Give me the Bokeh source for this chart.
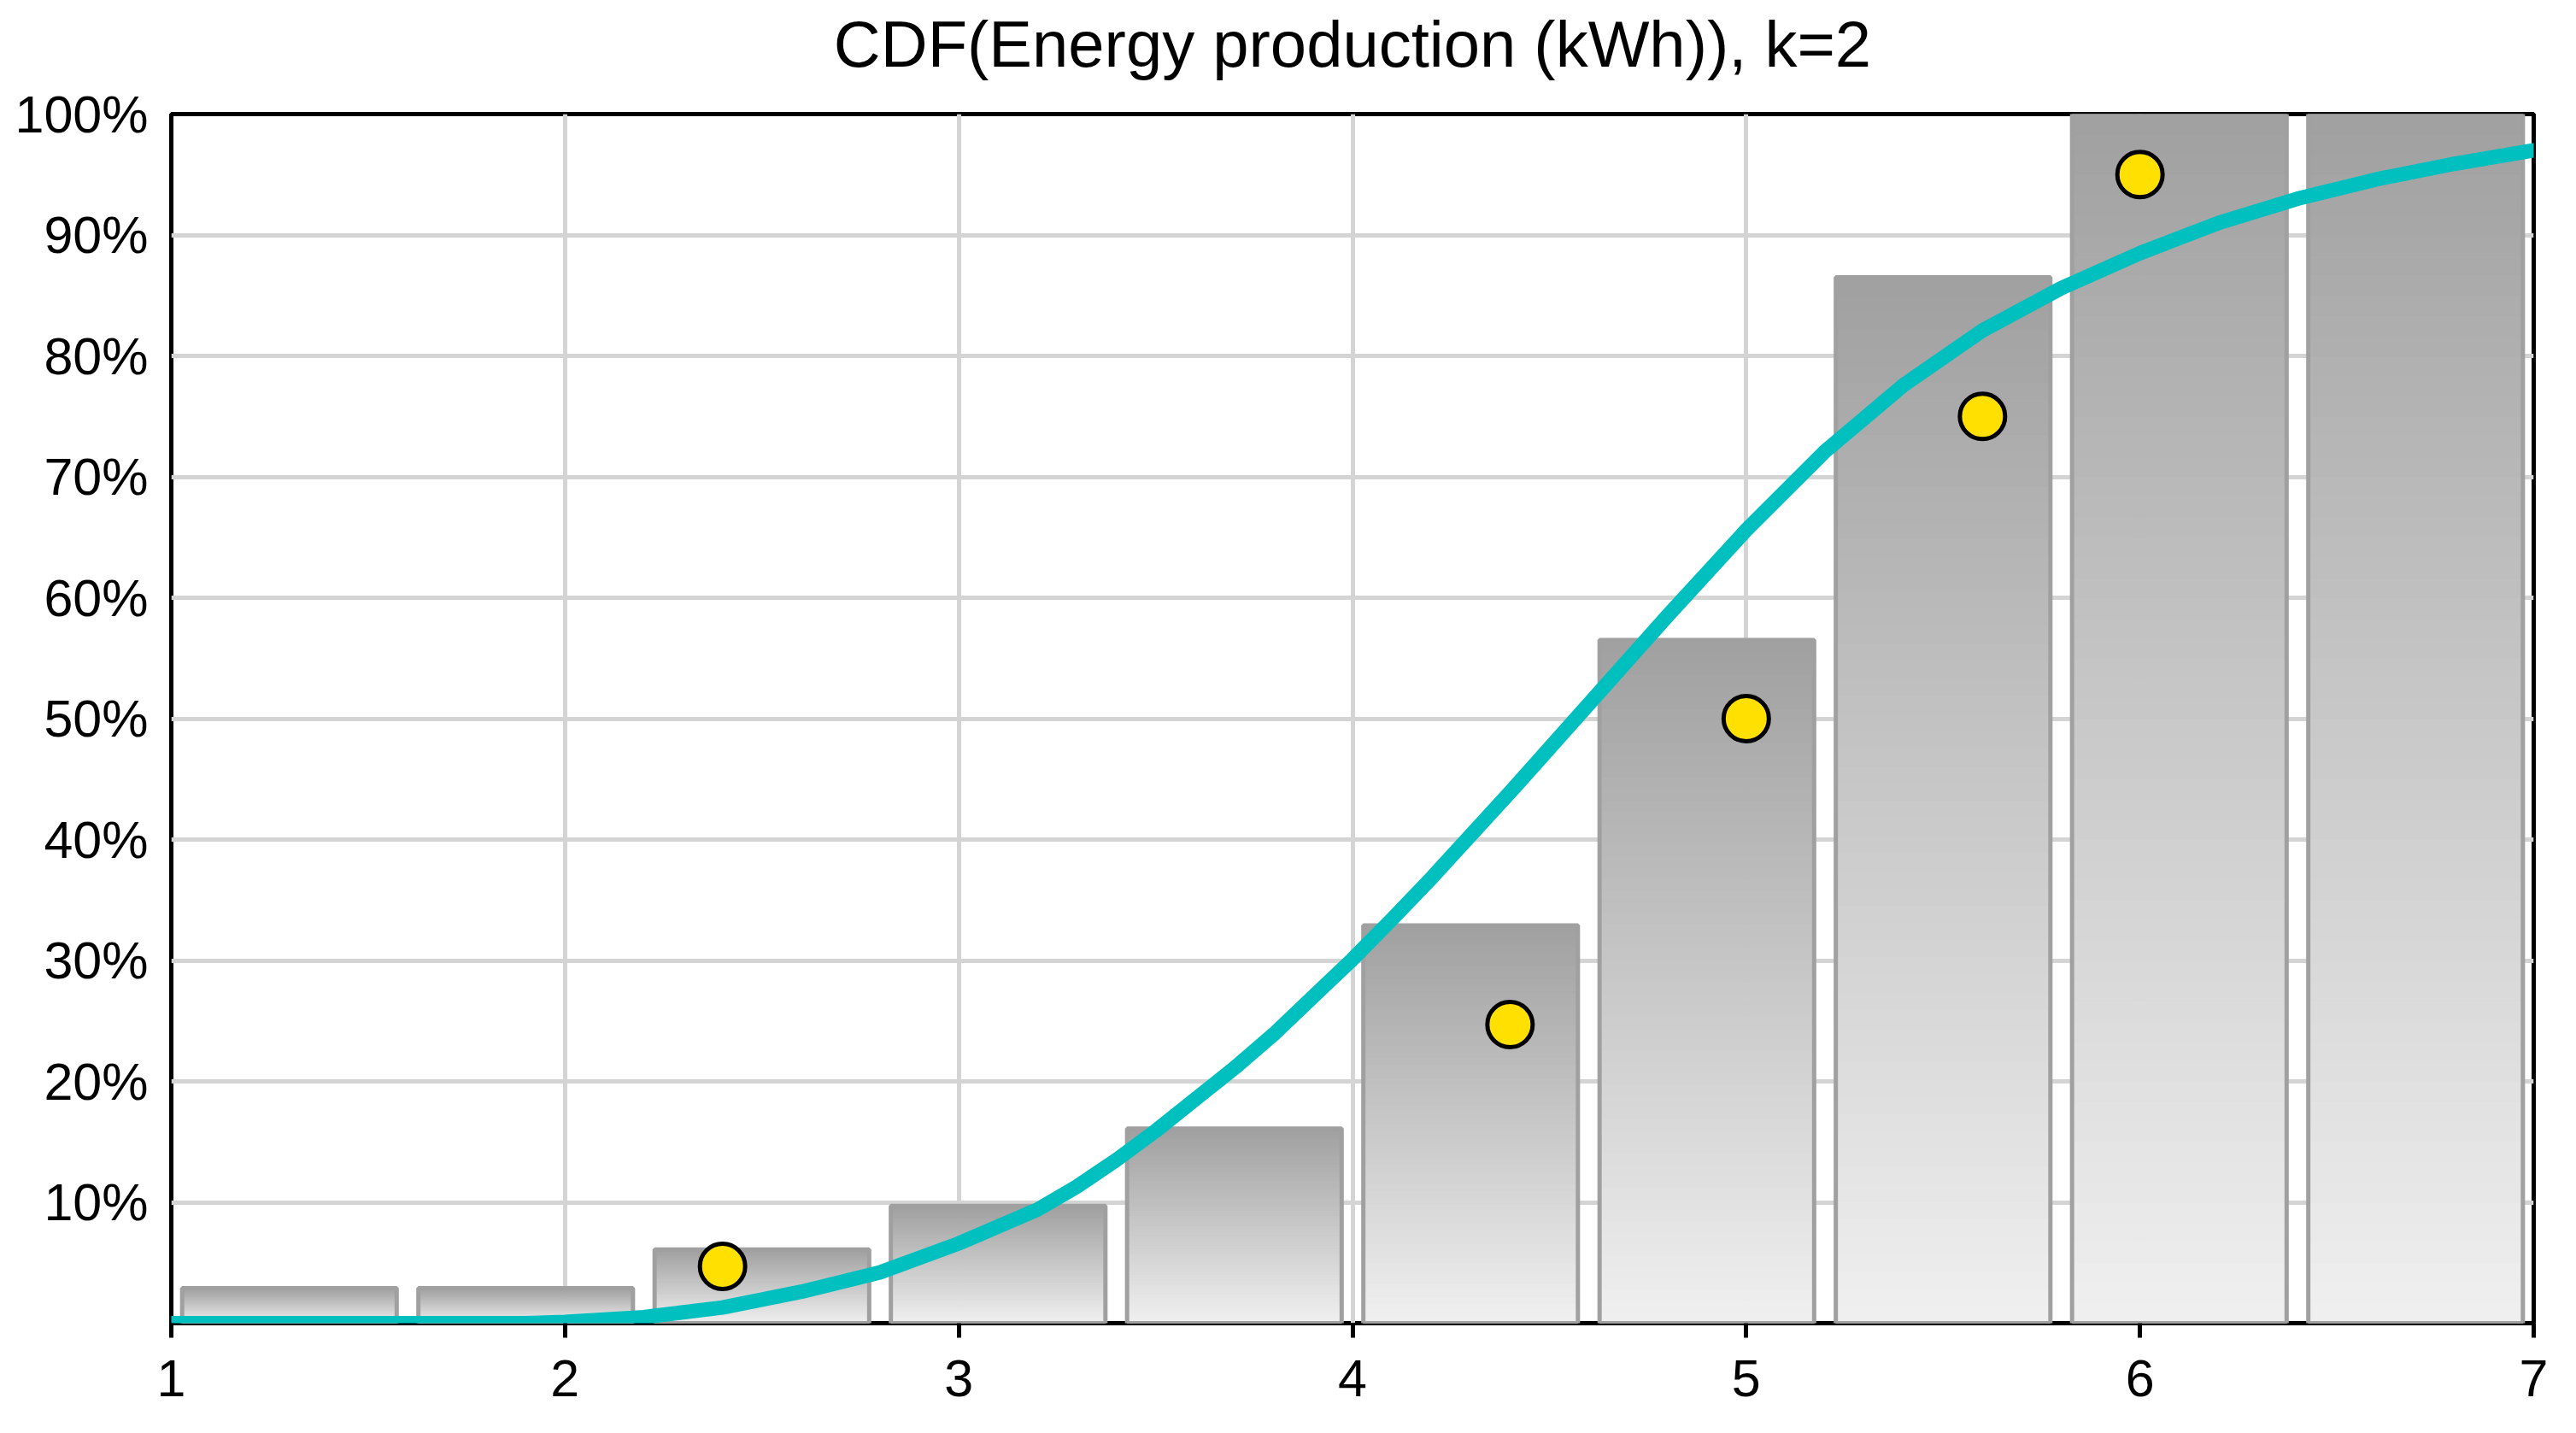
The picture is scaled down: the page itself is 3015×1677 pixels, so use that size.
from bokeh.plotting import figure
from bokeh.models import FixedTicker, PrintfTickFormatter, ColumnDataSource, Title
from bokeh.embed import file_html
from bokeh.resources import INLINE

# ---- data ----
bin_centers = [1.3, 1.9, 2.5, 3.1, 3.7, 4.3, 4.9, 5.5, 6.1, 6.7]
bar_heights = [2.9, 2.9, 6.1, 9.7, 16.1, 32.9, 56.5, 86.5, 100.0, 100.0]

curve_x = [1.0, 1.5, 1.9, 2.0, 2.2, 2.4, 2.6, 2.8, 3.0, 3.2, 3.3, 3.4, 3.5, 3.6, 3.7, 3.8, 3.9, 4.0,
           4.1, 4.2, 4.4, 4.6, 4.8, 5.0, 5.2, 5.4, 5.6, 5.8, 6.0, 6.2, 6.4, 6.6, 6.8, 7.0]
curve_y = [0.0, 0.0, 0.0, 0.1, 0.5, 1.3, 2.6, 4.2, 6.6, 9.4, 11.3, 13.5, 15.9, 18.5, 21.1, 23.9, 27.0, 30.1,
           33.4, 36.8, 43.9, 51.2, 58.5, 65.6, 72.1, 77.6, 82.1, 85.6, 88.5, 91.0, 93.0, 94.6, 95.9, 97.0]

point_x = [2.4, 4.4, 5.0, 5.6, 6.0]
point_y = [4.7, 24.7, 50.0, 75.0, 95.0]

x_ticks = [1, 2, 3, 4, 5, 6, 7]
y_ticks = [10, 20, 30, 40, 50, 60, 70, 80, 90, 100]

title_text = "CDF(Energy production (kWh)), k=2"

# ---- styling ----
FONT = "Liberation Sans"
BAR_W = 0.545
N_SLICES = 60
TOP_RGB = (0xA0, 0xA0, 0xA0)
BOT_RGB = (0xF0, 0xF0, 0xF0)

p = figure(
    frame_width=2765, frame_height=1415,
    min_border_left=200, min_border_right=42,
    min_border_top=133, min_border_bottom=121,
    x_range=(1, 7), y_range=(0, 100),
    output_backend="svg", toolbar_location=None,
    title=None,
)
p.background_fill_color = "white"
p.border_fill_color = "white"
p.outline_line_color = "black"
p.outline_line_width = 5

# spacer between frame and title (nearest the frame), then the real title
p.add_layout(Title(text=" ", text_font_size="10px", standoff=22), "above")
p.add_layout(Title(text=title_text, align="center", vertical_align="bottom",
                   text_font=FONT, text_font_size="76px", text_font_style="normal",
                   text_color="black", standoff=10), "above")

# axes
xa = p.xaxis[0]
xa.ticker = FixedTicker(ticks=x_ticks)
xa.major_label_text_font = FONT
xa.major_label_text_font_size = "61px"
xa.major_label_text_color = "black"
xa.major_tick_out = 17
xa.major_tick_in = 0
xa.major_tick_line_width = 5
xa.major_tick_line_color = "black"
xa.minor_tick_line_color = None
xa.axis_line_color = None
xa.major_label_standoff = 26

ya = p.yaxis[0]
ya.ticker = FixedTicker(ticks=y_ticks)
ya.formatter = PrintfTickFormatter(format="%d%%")
ya.major_label_text_font = FONT
ya.major_label_text_font_size = "61px"
ya.major_label_text_color = "black"
ya.major_tick_out = 0
ya.major_tick_in = 0
ya.minor_tick_line_color = None
ya.axis_line_color = None
ya.major_label_standoff = 27

# grid
p.xgrid.ticker = FixedTicker(ticks=x_ticks)
p.ygrid.ticker = FixedTicker(ticks=y_ticks)
for g in (p.xgrid[0], p.ygrid[0]):
    g.grid_line_color = "#D4D4D4"
    g.grid_line_width = 5

# gradient bars: each bar split into horizontal slices (dark top -> light bottom)
sl_left, sl_right, sl_bottom, sl_top, sl_color = [], [], [], [], []
for c, h in zip(bin_centers, bar_heights):
    for j in range(N_SLICES):
        t = (j + 0.5) / N_SLICES  # 0 bottom -> 1 top
        rgb = tuple(int(round(BOT_RGB[k] + (TOP_RGB[k] - BOT_RGB[k]) * t)) for k in range(3))
        sl_left.append(c - BAR_W / 2)
        sl_right.append(c + BAR_W / 2)
        sl_bottom.append(h * j / N_SLICES)
        sl_top.append(h * (j + 1) / N_SLICES)
        sl_color.append("#%02x%02x%02x" % rgb)

slices = ColumnDataSource(dict(left=sl_left, right=sl_right, bottom=sl_bottom, top=sl_top, color=sl_color))
p.quad(left="left", right="right", bottom="bottom", top="top", source=slices,
       fill_color="color", line_color="color", line_width=1)

bars = ColumnDataSource(dict(
    left=[c - BAR_W / 2 for c in bin_centers],
    right=[c + BAR_W / 2 for c in bin_centers],
    top=bar_heights,
    bottom=[0] * len(bar_heights),
))
p.quad(left="left", right="right", bottom="bottom", top="top", source=bars,
       fill_color=None, line_color="#A0A0A0", line_width=5)

# fitted CDF curve
p.line(curve_x, curve_y, line_color="#00BFBF", line_width=17, line_join="round", line_cap="round")

# percentile points
p.scatter(point_x, point_y, size=53, marker="circle",
          fill_color="#FFE000", line_color="black", line_width=5)

open("out.html", "w").write(file_html(p, INLINE))
